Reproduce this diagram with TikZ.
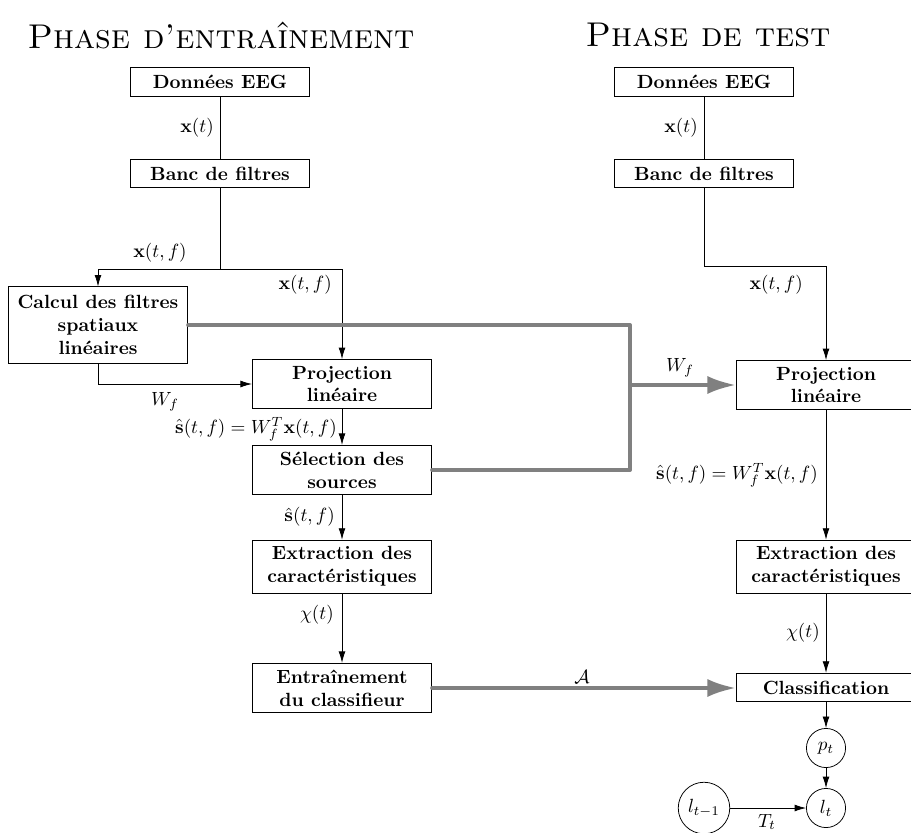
\documentclass[tikz,border=0pt]{standalone}
\usetikzlibrary{arrows.meta}
\begin{document}
\begin{tikzpicture}[x=0.524pt,y=-0.524pt,
  box/.style={draw,fill=white,font=\bfseries,align=center,minimum width=94pt,minimum height=15pt,inner sep=3.4pt},
  lab/.style={inner sep=1pt},
  arr/.style={-{Latex[length=6pt,width=3.6pt]}},
  gline/.style={draw=gray,line width=2pt,line join=round,line cap=round},
  garr/.style={gline,-{Latex[length=15pt,width=9.5pt]}},
  circ/.style={draw,circle,inner sep=1pt}]
\useasboundingbox (0,0) rectangle (911,832);
\clip (0,0) rectangle (911,832);
% titles
\node (t1) at (221,35) {\fontsize{18}{22}\selectfont\textsc{Phase d'entraînement}};
\node (t2) at (708,35) {\fontsize{18}{22}\selectfont\textsc{Phase de test}};
% left column
\node[box] (dL) at (220,82) {Données EEG};
\node[box] (bL) at (220,173.5) {Banc de filtres};
\node[box,minimum height=40pt] (calc) at (98,325) {Calcul des filtres\\spatiaux\\linéaires};
\node[box] (projL) at (342,384) {Projection\\linéaire};
\node[box] (selL) at (342,470) {Sélection des\\sources};
\node[box] (extL) at (342,566.5) {Extraction des\\caractéristiques};
\node[box] (entL) at (342,688) {Entraînement\\du classifieur};
% right column
\node[box] (dR) at (704,82) {Données EEG};
\node[box] (bR) at (704,173.5) {Banc de filtres};
\node[box] (projR) at (826,385) {Projection\\linéaire};
\node[box] (extR) at (826,566.5) {Extraction des\\caractéristiques};
\node[box] (clsR) at (826,687.5) {Classification};
\node[circ,minimum size=20.5pt] (pt) at (826,748) {$p_t$};
\node[circ,minimum size=20.5pt] (lt) at (826,808) {$l_t$};
\node[circ,minimum size=27pt] (ltm) at (704,808) {$l_{t-1}$};
% coordinates
\coordinate (sL) at (220,269);
\coordinate (sLa) at (98,269);
\coordinate (sLb) at (342,269);
\coordinate (wL) at (98,384);
\coordinate (sR) at (704,266);
\coordinate (sRb) at (826,266);
\coordinate (g1) at (630,325);
\coordinate (g2) at (630,470);
\coordinate (g3) at (630,385);
% left connectors
\draw (dL) -- (bL);
\draw (bL) -- (sL);
\draw[arr] (sL) -- (sLa) -- (calc);
\draw[arr] (sL) -- (sLb) -- (projL);
\draw[arr] (calc) -- (wL) -- (projL);
\draw[arr] (projL) -- (selL);
\draw[arr] (selL) -- (extL);
\draw[arr] (extL) -- (entL);
% right connectors
\draw (dR) -- (bR);
\draw[arr] (bR) -- (sR) -- (sRb) -- (projR);
\draw[arr] (projR) -- (extR);
\draw[arr] (extR) -- (clsR);
\draw[arr] (clsR) -- (pt);
\draw[arr] (pt) -- (lt);
\draw[arr] (ltm) -- (lt);
% gray connectors
\draw[gline] (calc.east) -- (g1) -- (g2) -- (selL.east);
\draw[garr] (g3) -- (projR.west);
\draw[garr] (entL.east) -- (clsR.west |- entL.east);
% labels
\node[lab,anchor=east] (l1) at (216,128) {$\mathbf{x}(t)$};
\node[lab,anchor=east] (l2) at (700,128) {$\mathbf{x}(t)$};
\node[lab] (l3) at (160,253) {$\mathbf{x}(t,f)$};
\node[lab,anchor=east] (l4) at (334,285) {$\mathbf{x}(t,f)$};
\node[lab] (l5) at (165,402) {$W_f$};
\node[lab,anchor=east] (l6) at (339,429) {$\hat{\mathbf{s}}(t,f)=W_f^T\mathbf{x}(t,f)$};
\node[lab,anchor=east] (l7) at (337,517) {$\hat{\mathbf{s}}(t,f)$};
\node[lab,anchor=east] (l8) at (336,615) {$\chi(t)$};
\node[lab] (l9) at (582,677) {$\mathcal{A}$};
\node[lab] (l10) at (680,368) {$W_f$};
\node[lab,anchor=east] (l11) at (805,285) {$\mathbf{x}(t,f)$};
\node[lab,anchor=east] (l12) at (820,475) {$\hat{\mathbf{s}}(t,f)=W_f^T\mathbf{x}(t,f)$};
\node[lab,anchor=east] (l13) at (822,633) {$\chi(t)$};
\node[lab] (l14) at (767,822) {$T_t$};
\end{tikzpicture}
\end{document}
